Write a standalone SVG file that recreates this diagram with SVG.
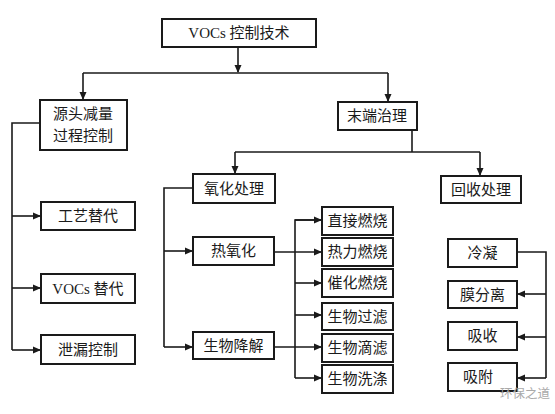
<svg xmlns="http://www.w3.org/2000/svg" width="555" height="414" viewBox="0 0 555 414">
<style>
.box{fill:#fff;stroke:#1a1a1a;stroke-width:2}
.t{font-family:"Liberation Serif","Noto Sans CJK SC",serif;font-size:15px;fill:#1a1a1a;text-anchor:middle;dominant-baseline:central}
.c{fill:none;stroke:#1a1a1a;stroke-width:1.6}
.wm{font-family:"Noto Sans CJK SC",sans-serif;font-size:12.5px;fill:#aaa}
</style>
<defs>
<marker id="ah" markerWidth="8" markerHeight="8" refX="7" refY="4" orient="auto" markerUnits="userSpaceOnUse">
<path d="M0,0.5 L8,4 L0,7.5 Z" fill="#1a1a1a"/>
</marker>
</defs>
<rect width="555" height="414" fill="#fff"/>
<g id="connectors">
<path class="c" d="M238,47 V72" marker-end="url(#ah)"/>
<path class="c" d="M83,73 H388"/>
<path class="c" d="M83,73 V99" marker-end="url(#ah)"/>
<path class="c" d="M388,73 V101" marker-end="url(#ah)"/>
<path class="c" d="M40,123 H12 V350"/>
<path class="c" d="M12,216 H40" marker-end="url(#ah)"/>
<path class="c" d="M12,288 H40" marker-end="url(#ah)"/>
<path class="c" d="M12,350 H40" marker-end="url(#ah)"/>
<path class="c" d="M412,130 V152"/>
<path class="c" d="M235,152 H480"/>
<path class="c" d="M235,152 V173" marker-end="url(#ah)"/>
<path class="c" d="M480,152 V175" marker-end="url(#ah)"/>
<path class="c" d="M193,188 H164 V347"/>
<path class="c" d="M164,251 H192" marker-end="url(#ah)"/>
<path class="c" d="M164,347 H192" marker-end="url(#ah)"/>
<path class="c" d="M274,252 H321" marker-end="url(#ah)"/>
<path class="c" d="M274,347 H321" marker-end="url(#ah)"/>
<path class="c" d="M321,220 H295 V378"/>
<path class="c" d="M295,220 H321" marker-end="url(#ah)"/>
<path class="c" d="M295,283 H321" marker-end="url(#ah)"/>
<path class="c" d="M295,315 H321" marker-end="url(#ah)"/>
<path class="c" d="M295,378 H321" marker-end="url(#ah)"/>
<path class="c" d="M517,252 H546 V378"/>
<path class="c" d="M546,294 H518" marker-end="url(#ah)"/>
<path class="c" d="M546,337 H518" marker-end="url(#ah)"/>
<path class="c" d="M546,378 H518" marker-end="url(#ah)"/>
</g>
<g id="n-root"><rect class="box" x="162" y="19" width="154" height="28"/><text class="t" x="239" y="33">VOCs 控制技术</text></g>
<g id="n-source"><rect class="box" x="40" y="100" width="87" height="50"/><text class="t" x="83" y="114">源头减量</text><text class="t" x="83" y="136">过程控制</text></g>
<g id="n-end"><rect class="box" x="338" y="102" width="79" height="28"/><text class="t" x="377" y="116">末端治理</text></g>
<g id="n-craft"><rect class="box" x="41" y="202" width="94" height="28"/><text class="t" x="88" y="216">工艺替代</text></g>
<g id="n-vocsub"><rect class="box" x="41" y="274" width="94" height="29"/><text class="t" x="88" y="288.5">VOCs 替代</text></g>
<g id="n-leak"><rect class="box" x="41" y="335" width="94" height="29"/><text class="t" x="88" y="349.5">泄漏控制</text></g>
<g id="n-oxid"><rect class="box" x="193" y="174" width="82" height="29"/><text class="t" x="234" y="188.5">氧化处理</text></g>
<g id="n-recov"><rect class="box" x="441" y="176" width="80" height="27"/><text class="t" x="481" y="189.5">回收处理</text></g>
<g id="n-thermox"><rect class="box" x="193" y="237" width="81" height="28"/><text class="t" x="233.5" y="251">热氧化</text></g>
<g id="n-biodeg"><rect class="box" x="193" y="332" width="81" height="27"/><text class="t" x="233.5" y="345.5">生物降解</text></g>
<g id="n-direct"><rect class="box" x="322" y="207" width="71" height="28"/><text class="t" x="357.5" y="221">直接燃烧</text></g>
<g id="n-thermal"><rect class="box" x="322" y="238" width="71" height="28"/><text class="t" x="357.5" y="252">热力燃烧</text></g>
<g id="n-catal"><rect class="box" x="322" y="269" width="71" height="28"/><text class="t" x="357.5" y="283">催化燃烧</text></g>
<g id="n-biofilt"><rect class="box" x="322" y="303" width="71" height="27"/><text class="t" x="357.5" y="316.5">生物过滤</text></g>
<g id="n-biotrick"><rect class="box" x="322" y="334" width="71" height="28"/><text class="t" x="357.5" y="348">生物滴滤</text></g>
<g id="n-biowash"><rect class="box" x="322" y="365" width="71" height="28"/><text class="t" x="357.5" y="379">生物洗涤</text></g>
<g id="n-cond"><rect class="box" x="448" y="239" width="69" height="28"/><text class="t" x="482.5" y="253">冷凝</text></g>
<g id="n-memb"><rect class="box" x="448" y="281" width="69" height="27"/><text class="t" x="482.5" y="294.5">膜分离</text></g>
<g id="n-absorb"><rect class="box" x="448" y="322" width="69" height="28"/><text class="t" x="482.5" y="336">吸收</text></g>
<g id="n-adsorb"><rect class="box" x="448" y="363" width="69" height="28"/><text class="t" x="478" y="377">吸附</text></g>
<text class="wm" x="500" y="398">环保之道</text>
</svg>
